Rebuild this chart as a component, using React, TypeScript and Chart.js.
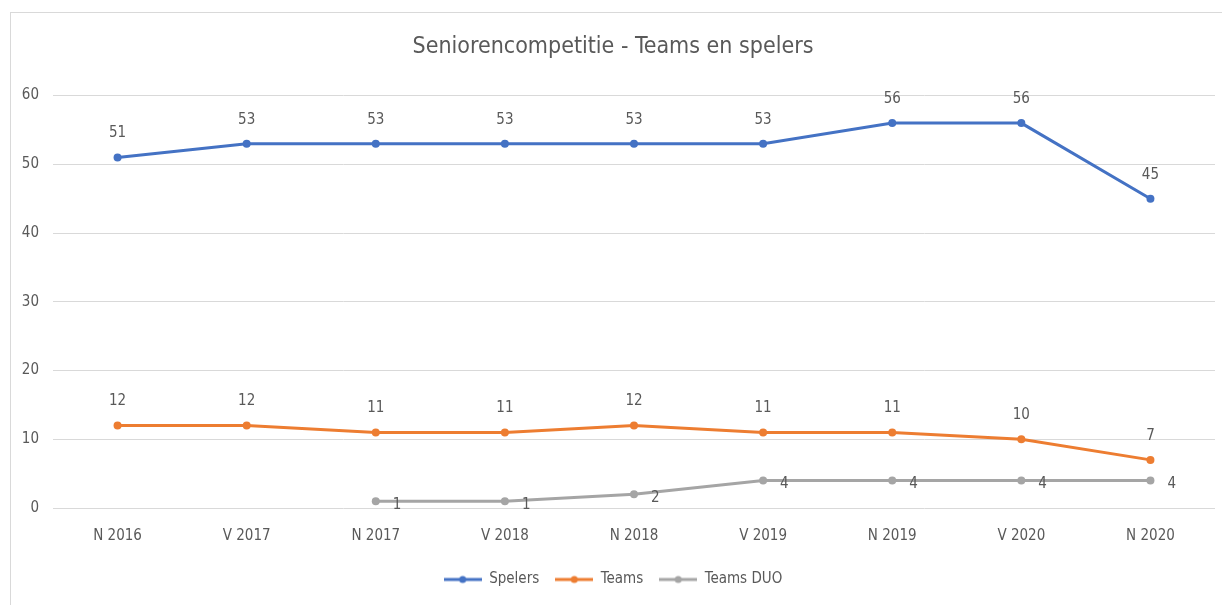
import React, { useEffect, useRef } from "react";
import { Chart, registerables } from "chart.js";

Chart.register(...registerables);

const categories = ["N 2016", "V 2017", "N 2017", "V 2018", "N 2018", "V 2019", "N 2019", "V 2020", "N 2020"];
const spelers = [51, 53, 53, 53, 53, 53, 56, 56, 45];
const teams = [12, 12, 11, 11, 12, 11, 11, 10, 7];
const teamsDuo: (number | null)[] = [null, null, 1, 1, 2, 4, 4, 4, 4];
const seriesNames = ["Spelers", "Teams", "Teams DUO"];
const seriesColors = ["#4472C4", "#ED7D31", "#A5A5A5"];
const labelPositions = ["top", "top", "right"];
const titleText = "Seniorencompetitie - Teams en spelers";

const FONT = "'Liberation Sans Narrow', 'DejaVu Sans Condensed', 'Open Sans', sans-serif";
const TEXT = "#595959";

function makeIcon(color: string): HTMLCanvasElement {
  const c = document.createElement("canvas");
  c.width = 38;
  c.height = 10;
  const ctx = c.getContext("2d")!;
  ctx.strokeStyle = color;
  ctx.lineWidth = 3;
  ctx.beginPath();
  ctx.moveTo(0, 5);
  ctx.lineTo(38, 5);
  ctx.stroke();
  ctx.fillStyle = color;
  ctx.beginPath();
  ctx.arc(19, 5, 3.5, 0, Math.PI * 2);
  ctx.fill();
  return c;
}

const dataLabelPlugin = {
  id: "dataLabels",
  afterDatasetsDraw(chart: any) {
    const ctx = chart.ctx;
    ctx.save();
    ctx.font = `15px ${FONT}`;
    ctx.fillStyle = TEXT;
    chart.data.datasets.forEach((ds: any, i: number) => {
      const meta = chart.getDatasetMeta(i);
      meta.data.forEach((pt: any, j: number) => {
        const v = ds.data[j];
        if (v === null || v === undefined) return;
        if (ds.labelPos === "right") {
          ctx.textAlign = "left";
          ctx.textBaseline = "middle";
          ctx.fillText(String(v), pt.x + 17, pt.y + 4);
        } else {
          ctx.textAlign = "center";
          ctx.textBaseline = "middle";
          ctx.fillText(String(v), pt.x, pt.y - 24);
        }
      });
    });
    ctx.restore();
  },
};

export default function App() {
  const ref = useRef<HTMLCanvasElement | null>(null);

  useEffect(() => {
    document.body.style.margin = "0";
    const series = [spelers, teams, teamsDuo];
    const icons = seriesColors.map(makeIcon);
    const chart = new Chart(ref.current!, {
      type: "line",
      data: {
        labels: categories,
        datasets: series.map((d, i) => ({
          label: seriesNames[i],
          data: d,
          borderColor: seriesColors[i],
          backgroundColor: seriesColors[i],
          borderWidth: 3,
          pointRadius: 4,
          pointBorderWidth: 0,
          pointHoverRadius: 4,
          tension: 0,
          labelPos: labelPositions[i],
        })) as any,
      },
      options: {
        animation: false,
        responsive: false,
        maintainAspectRatio: false,
        layout: { padding: { left: 0, right: 7, top: 0, bottom: 8 } },
        plugins: {
          title: {
            display: true,
            text: titleText,
            color: TEXT,
            font: { family: FONT, size: 23, weight: "normal" },
            padding: { top: 20, bottom: 35 },
          },
          legend: {
            position: "bottom",
            labels: {
              usePointStyle: true,
              pointStyleWidth: 38,
              boxHeight: 10,
              color: TEXT,
              font: { family: FONT, size: 15 },
              padding: 16,
              generateLabels: (c: any) => {
                const items = Chart.defaults.plugins.legend.labels.generateLabels(c);
                return items.map((it: any, i: number) => ({ ...it, pointStyle: icons[i] }));
              },
            },
          },
          tooltip: { enabled: false },
        },
        scales: {
          x: {
            offset: true,
            grid: { display: false },
            border: { display: false },
            ticks: { color: TEXT, font: { family: FONT, size: 15 }, padding: 11, maxRotation: 0 },
          },
          y: {
            min: 0,
            max: 60,
            afterFit: (s: any) => {
              s.width = 42;
            },
            grid: { color: "#D9D9D9", lineWidth: 1, drawTicks: false },
            border: { display: false },
            ticks: { stepSize: 10, color: TEXT, font: { family: FONT, size: 15 }, padding: 14 },
          },
        },
      },
      plugins: [dataLabelPlugin],
    } as any);
    return () => chart.destroy();
  }, []);

  return (
    <div style={{ position: "relative", width: 1222, height: 605, overflow: "hidden", background: "#fff" }}>
      <div
        style={{
          position: "absolute",
          left: 10,
          top: 12,
          width: 1212,
          height: 593,
          boxSizing: "border-box",
          borderLeft: "1px solid #D9D9D9",
          borderTop: "1px solid #D9D9D9",
        }}
      >
        <canvas ref={ref} width={1211} height={592} style={{ display: "block" }} />
      </div>
    </div>
  );
}
